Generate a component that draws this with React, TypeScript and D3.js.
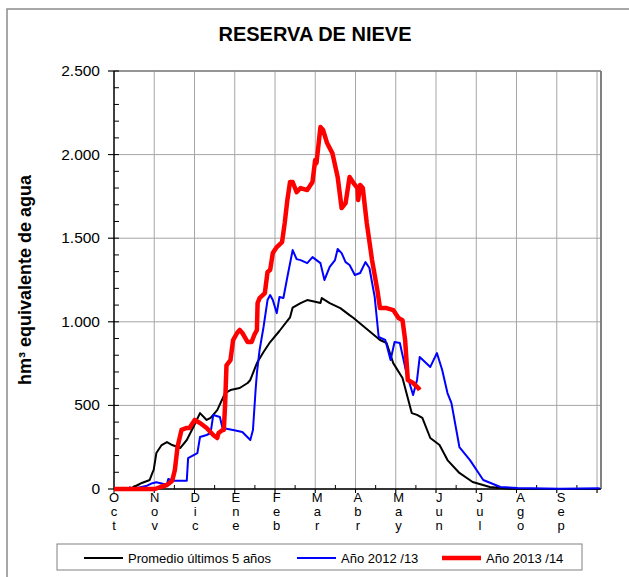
import React from "react";
import * as d3 from "d3";

// hydrological year: day 0 = 1 Oct
const monthLabels = ["Oct", "Nov", "Dic", "Ene", "Feb", "Mar", "Abr", "May", "Jun", "Jul", "Ago", "Sep"];
const yTicks = [0, 500, 1000, 1500, 2000, 2500];
const seriesNames = ["Promedio últimos 5 años", "Año 2012 /13", "Año 2013 /14"];

// [day, hm3]
const promedio: [number, number][] = [
  [0, 0], [12, 0], [18, 24], [21, 36], [27, 54], [29, 96], [30, 114], [32, 215], [36, 263],
  [40, 281], [44, 263], [50, 245], [55, 293], [60, 371], [65, 454], [70, 413], [73, 425],
  [78, 472], [84, 574], [88, 592], [95, 604], [101, 634], [103, 652], [108, 753], [113, 819],
  [118, 879], [125, 945], [133, 1026], [135, 1085], [141, 1112], [146, 1130], [152, 1120],
  [156, 1112], [157, 1142], [163, 1112], [171, 1082], [173, 1070], [178, 1040], [181, 1023],
  [191, 957], [201, 891], [206, 873], [211, 753], [218, 664], [225, 454], [229, 443],
  [233, 425], [239, 305], [246, 263], [252, 173], [261, 96], [271, 42], [284, 12], [299, 2],
  [367, 0],
];

const anio1213: [number, number][] = [
  [0, 0], [11, 0], [12, 10], [14, 0], [25, 20], [29, 35], [32, 40], [40, 25], [41, 60],
  [45, 50], [55, 50], [56, 185], [63, 215], [65, 311], [70, 323], [73, 335], [75, 443],
  [80, 431], [82, 365], [90, 353], [97, 341], [103, 293], [105, 353], [107, 592], [108, 694],
  [110, 831], [113, 969], [116, 1130], [118, 1160], [120, 1130], [123, 1052], [125, 1148],
  [128, 1142], [131, 1268], [135, 1429], [138, 1375], [141, 1369], [146, 1351], [150, 1387],
  [156, 1351], [159, 1250], [163, 1328], [167, 1369], [169, 1435], [172, 1411], [175, 1357],
  [178, 1340], [182, 1280], [186, 1292], [190, 1357], [193, 1322], [197, 1148], [200, 909],
  [205, 891], [209, 771], [212, 879], [216, 873], [221, 694], [226, 562], [229, 652],
  [231, 789], [239, 730], [244, 813], [248, 712], [252, 574], [255, 514], [261, 251],
  [269, 173], [279, 54], [292, 12], [305, 6], [337, 2], [367, 4],
];

const anio1314: [number, number][] = [
  [0, 0], [31, 0], [35, 12], [40, 24], [44, 50], [46, 114], [48, 251], [51, 353], [55, 365],
  [57, 365], [61, 413], [65, 395], [70, 365], [75, 323], [78, 305], [79, 335], [82, 353],
  [83, 353], [84, 514], [85, 740], [88, 771], [90, 891], [93, 933], [95, 951], [97, 933],
  [101, 879], [104, 879], [106, 921], [108, 951], [108.5, 1112], [110, 1142], [114, 1172],
  [116, 1298], [118, 1310], [120, 1411], [123, 1447], [127, 1477], [129, 1591], [131, 1728],
  [133, 1836], [135, 1836], [138, 1776], [141, 1800], [146, 1788], [150, 1836], [152, 1967],
  [153, 1949], [156, 2165], [158, 2147], [161, 2069], [165, 2009], [169, 1866], [172, 1680],
  [175, 1710], [178, 1866], [181, 1830], [184, 1800], [184.5, 1728], [186, 1818], [188, 1800],
  [191, 1591], [195, 1369], [199, 1190], [201, 1082], [206, 1082], [211, 1070], [215, 1023],
  [218, 1010], [220, 891], [222, 652], [226, 634], [230, 604], [231, 592],
];

const font = "'Liberation Sans', Arial, sans-serif";

export default function App() {
  const width = 629;
  const height = 577;
  const left = 114, right = 601, top = 71, bottom = 489;

  const x = d3.scaleLinear().domain([0, 368]).range([left, right]);
  const y = d3.scaleLinear().domain([0, 2500]).range([bottom, top]);

  const monthDay = (i: number) => (i * 365) / 12;
  const months = d3.range(13);
  const minorY = d3.range(0, 2501, 100);

  const line = d3
    .line<[number, number]>()
    .x((d) => x(d[0]))
    .y((d) => y(d[1]));

  const series = [
    { data: promedio, color: "#000000", w: 2 },
    { data: anio1213, color: "#0000ff", w: 2 },
    { data: anio1314, color: "#ff0000", w: 4.5 },
  ];

  const legendX = [84, 297, 442];

  return (
    <svg
      width={width}
      height={height}
      style={{ position: "absolute", left: 0, top: 0, background: "#fff" }}
      fontFamily={font}
    >
      {/* outer frame */}
      <rect x={7} y={9} width={700} height={700} fill="none" stroke="#8c8c8c" strokeWidth={1.5} />

      <text x={315} y={41} textAnchor="middle" fontSize={20} fontWeight="bold">
        RESERVA DE NIEVE
      </text>

      {/* gridlines */}
      {yTicks.map((t) => (
        <line key={"gy" + t} x1={left - 6} x2={right} y1={y(t)} y2={y(t)} stroke="#a6a6a6" strokeWidth={1} />
      ))}
      {months.slice(1).map((i) => (
        <line key={"gx" + i} x1={x(monthDay(i))} x2={x(monthDay(i))} y1={top} y2={bottom + 4} stroke="#a6a6a6" strokeWidth={1} />
      ))}
      <line x1={right} x2={right} y1={top} y2={bottom} stroke="#808080" strokeWidth={2} />
      <line x1={left} x2={right} y1={top} y2={top} stroke="#808080" strokeWidth={1.5} />

      {/* axes */}
      <line x1={left} x2={left} y1={top} y2={bottom} stroke="#000" strokeWidth={1.5} />
      <line x1={left} x2={right} y1={bottom} y2={bottom} stroke="#000" strokeWidth={1.5} />
      {minorY.map((t) => (
        <line key={"my" + t} x1={left} x2={left + 5} y1={y(t)} y2={y(t)} stroke="#000" strokeWidth={1} />
      ))}
      {yTicks.map((t) => (
        <g key={"ty" + t}>
          <line x1={left - 6} x2={left} y1={y(t)} y2={y(t)} stroke="#000" strokeWidth={1} />
          <text x={100} y={y(t) + 5} textAnchor="end" fontSize={15.5}>
            {d3.format(",")(t).replace(/,/g, ".")}
          </text>
        </g>
      ))}
      {months.slice(0, 12).map((i) => (
        <line key={"mx" + i} x1={x(monthDay(i + 0.5))} x2={x(monthDay(i + 0.5))} y1={bottom} y2={bottom - 4} stroke="#000" strokeWidth={1} />
      ))}
      {months.map((i) => (
        <line key={"tx" + i} x1={x(monthDay(i))} x2={x(monthDay(i))} y1={bottom} y2={bottom + 4} stroke="#000" strokeWidth={1} />
      ))}
      {monthLabels.map((m, i) => (
        <text key={m} x={x(monthDay(i)) + i * 0.4} textAnchor="middle" fontSize={13}>
          {m.split("").map((c, j) => (
            <tspan key={j} x={x(monthDay(i)) + i * 0.4} y={502 + j * 14}>
              {c}
            </tspan>
          ))}
        </text>
      ))}

      <text
        transform={`translate(31,${(top + bottom) / 2}) rotate(-90)`}
        textAnchor="middle"
        fontSize={18}
        fontWeight="bold"
      >
        hm³ equivalente de agua
      </text>

      {/* series */}
      {series.map((s, i) => (
        <path key={i} d={line(s.data) || ""} fill="none" stroke={s.color} strokeWidth={s.w} strokeLinejoin="round" />
      ))}

      {/* legend */}
      <rect x={57} y={544} width={525} height={26} fill="#fff" stroke="#808080" strokeWidth={1} />
      {seriesNames.map((n, i) => (
        <g key={n}>
          <line x1={legendX[i]} x2={legendX[i] + 39} y1={558} y2={558} stroke={series[i].color} strokeWidth={series[i].w} />
          <text x={legendX[i] + 44} y={563} fontSize={13}>
            {n}
          </text>
        </g>
      ))}
    </svg>
  );
}
